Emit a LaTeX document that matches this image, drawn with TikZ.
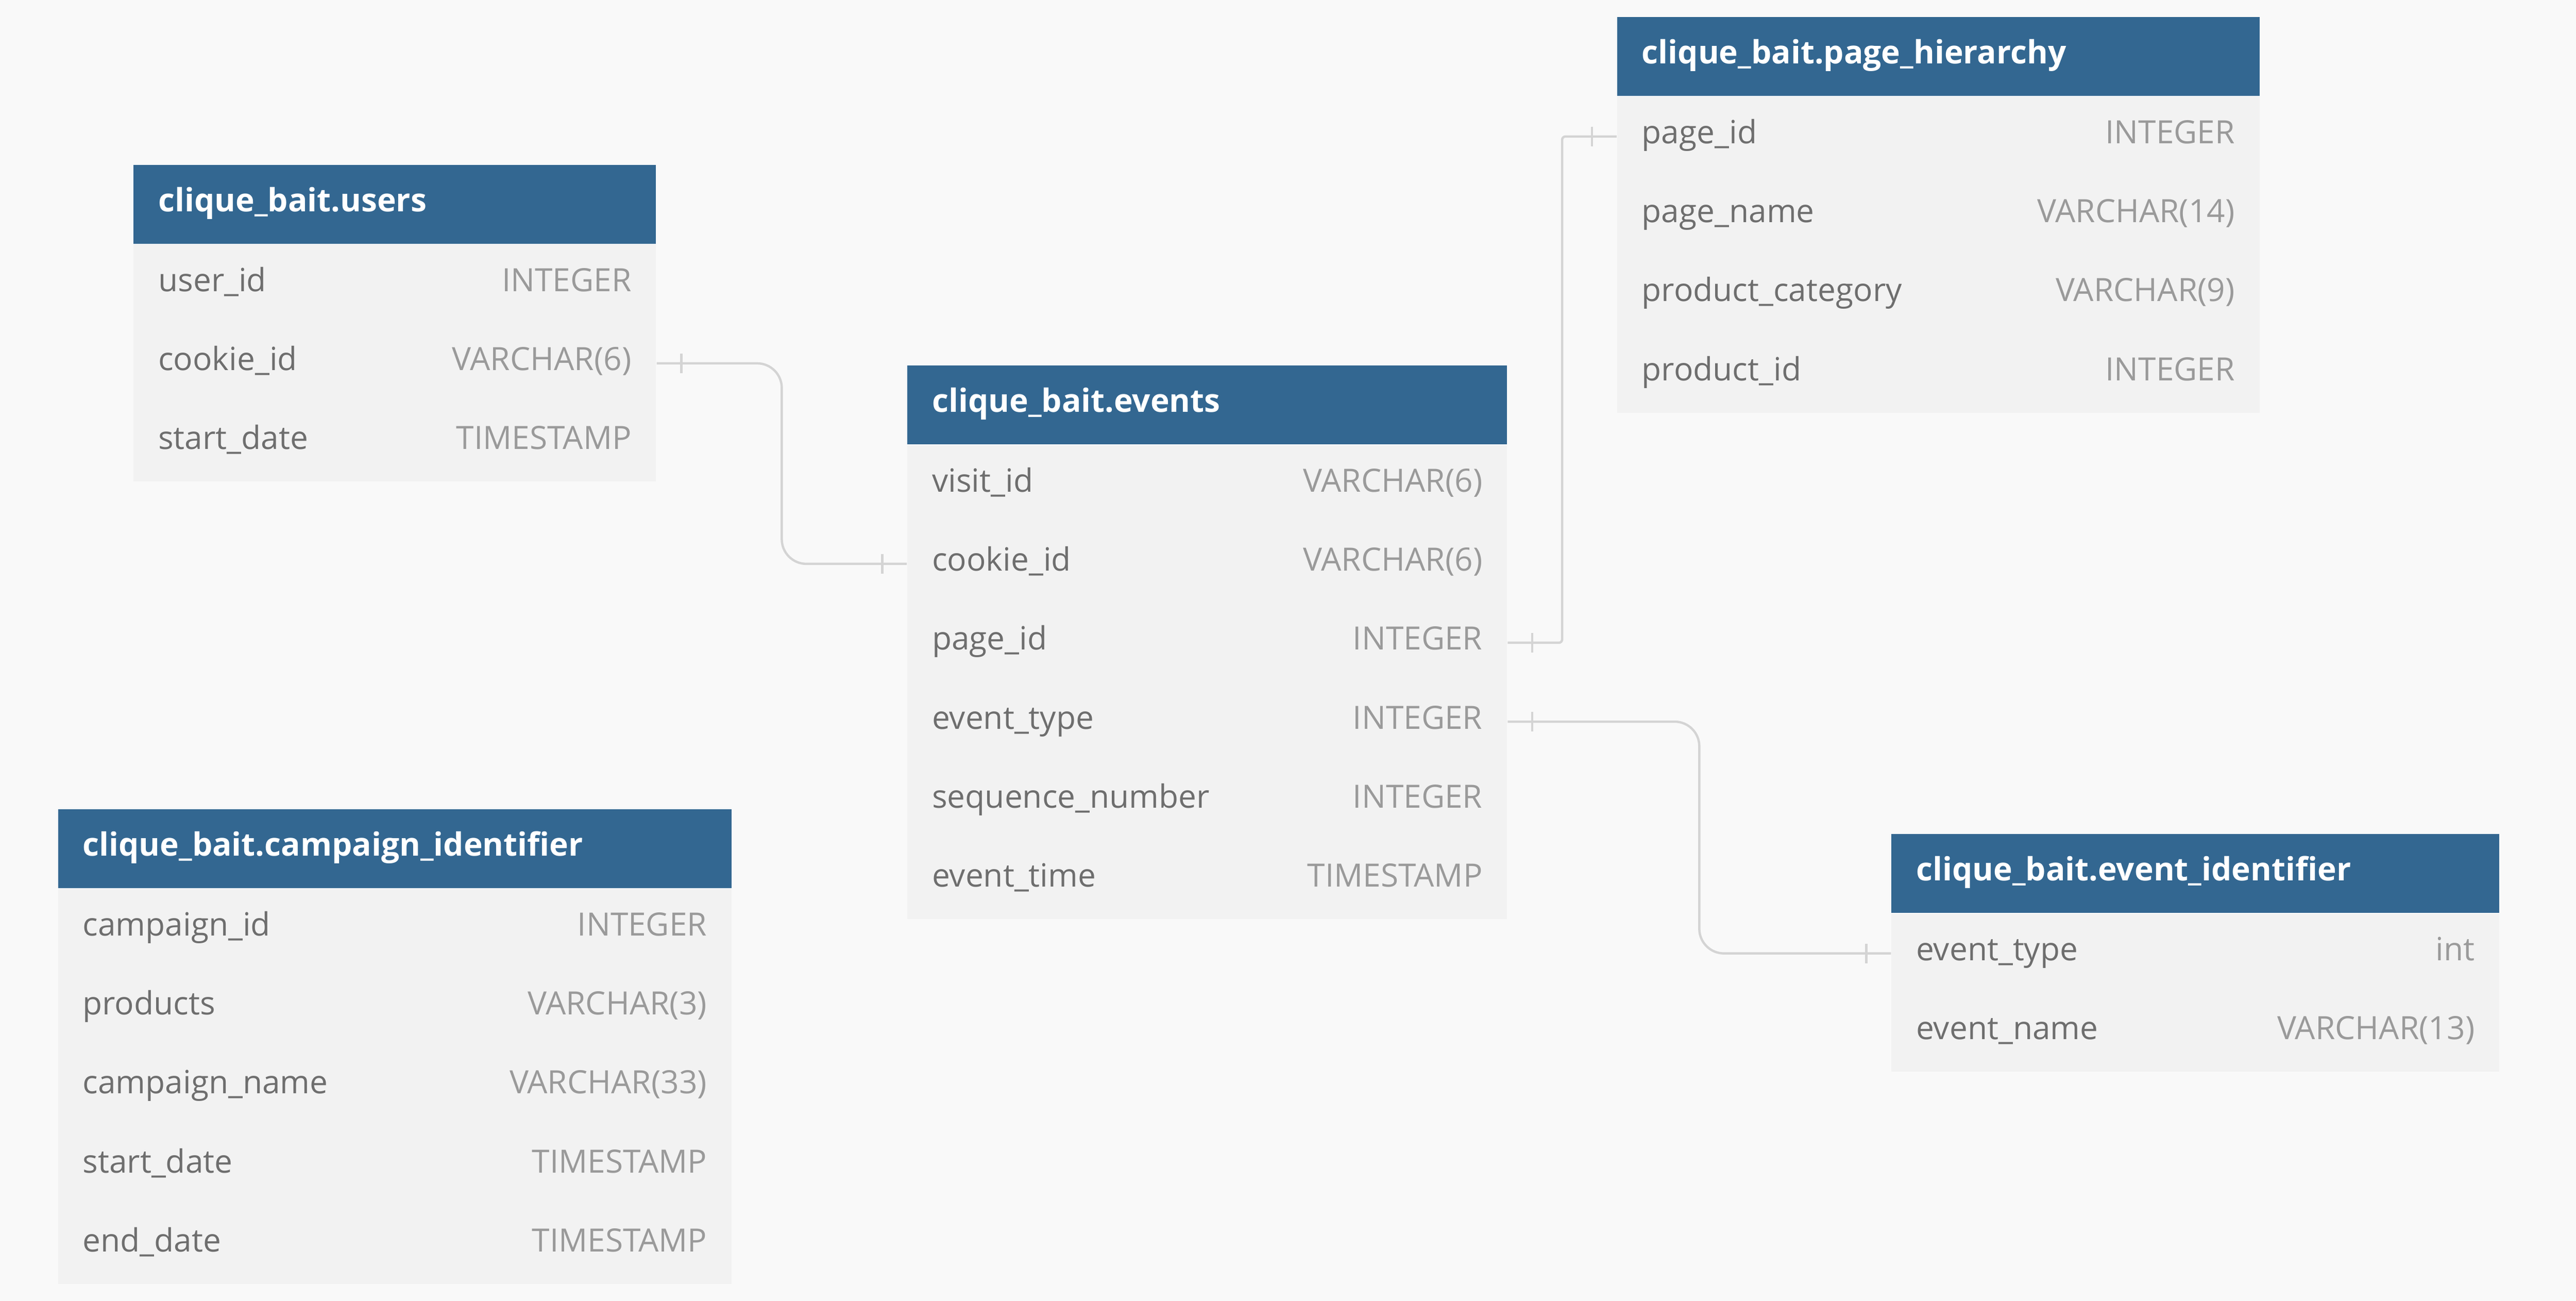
\documentclass[tikz,border=0pt]{standalone}
\usepackage{fontspec}
\setmainfont{Open Sans}
\usepackage{xcolor}
\usepackage{tikz}
\usetikzlibrary{calc}
\usetikzlibrary{positioning}

\definecolor{bgcolor}{HTML}{F9F9F9}
\definecolor{headblue}{RGB}{51,103,145}
\definecolor{rowgray}{HTML}{F2F2F2}
\definecolor{fieldgray}{HTML}{6E6E6E}
\definecolor{typegray}{HTML}{9A9A9A}
\definecolor{linegray}{HTML}{D4D4D4}

\newcommand{\erdfont}{\fontsize{11.1}{13}\selectfont}

\tikzset{
  tabhead/.style={fill=headblue, anchor=north west, minimum width=#1, minimum height=0.96cm, inner sep=0pt},
  tabrow/.style={fill=rowgray, anchor=north west, minimum width=#1, minimum height=0.96cm, inner sep=0pt},
  headname/.style={anchor=west, inner xsep=0.3cm, text=white, font=\erdfont\bfseries, text height=0.75em, text depth=0.25em},
  fieldname/.style={anchor=west, inner xsep=0.3cm, text=fieldgray, font=\erdfont, text height=0.75em, text depth=0.25em},
  fieldtype/.style={anchor=east, inner xsep=0.3cm, text=typegray, font=\erdfont, text height=0.75em, text depth=0.25em},
  link/.style={draw=linegray, line width=0.8pt},
  tick/.style={draw=linegray, line width=0.8pt}
}

\begin{document}
\begin{tikzpicture}

\fill[bgcolor] (0,0) rectangle (31.36,-15.83);

% users
\node[tabhead=6.36cm, label={[headname]west:clique\_bait.users}] (users) at (1.62,-2.00) {};
\foreach \fname/\ftype [count=\i] in {user\_id/INTEGER, cookie\_id/VARCHAR(6), start\_date/TIMESTAMP}
  \node[tabrow=6.36cm, label={[fieldname]west:\fname}, label={[fieldtype]east:\ftype}] (users-\i) at ([yshift={-(\i-1)*0.96cm}]users.south west) {};

% events
\node[tabhead=7.30cm, label={[headname]west:clique\_bait.events}] (events) at (11.04,-4.44) {};
\foreach \fname/\ftype [count=\i] in {visit\_id/VARCHAR(6), cookie\_id/VARCHAR(6), page\_id/INTEGER, event\_type/INTEGER, sequence\_number/INTEGER, event\_time/TIMESTAMP}
  \node[tabrow=7.30cm, label={[fieldname]west:\fname}, label={[fieldtype]east:\ftype}] (events-\i) at ([yshift={-(\i-1)*0.96cm}]events.south west) {};

% page hierarchy
\node[tabhead=7.82cm, label={[headname]west:clique\_bait.page\_hierarchy}] (page) at (19.68,-0.20) {};
\foreach \fname/\ftype [count=\i] in {page\_id/INTEGER, page\_name/VARCHAR(14), product\_category/VARCHAR(9), product\_id/INTEGER}
  \node[tabrow=7.82cm, label={[fieldname]west:\fname}, label={[fieldtype]east:\ftype}] (page-\i) at ([yshift={-(\i-1)*0.96cm}]page.south west) {};

% campaign identifier
\node[tabhead=8.20cm, label={[headname]west:clique\_bait.campaign\_identifier}] (campaign) at (0.70,-9.84) {};
\foreach \fname/\ftype [count=\i] in {campaign\_id/INTEGER, products/VARCHAR(3), campaign\_name/VARCHAR(33), start\_date/TIMESTAMP, end\_date/TIMESTAMP}
  \node[tabrow=8.20cm, label={[fieldname]west:\fname}, label={[fieldtype]east:\ftype}] (campaign-\i) at ([yshift={-(\i-1)*0.96cm}]campaign.south west) {};

% event identifier
\node[tabhead=7.40cm, label={[headname]west:clique\_bait.event\_identifier}] (evid) at (23.02,-10.14) {};
\foreach \fname/\ftype [count=\i] in {event\_type/int, event\_name/VARCHAR(13)}
  \node[tabrow=7.40cm, label={[fieldname]west:\fname}, label={[fieldtype]east:\ftype}] (evid-\i) at ([yshift={-(\i-1)*0.96cm}]evid.south west) {};

% relations
\draw[link, rounded corners=0.3cm] (users-2.east) -| ($(users-2.east)!0.5!(events-2.west)$) |- (events-2.west);
\draw[link, rounded corners=0.04cm] (events-3.east) -| ($(events-3.east)!0.5!(page-1.west)$) |- (page-1.west);
\draw[link, rounded corners=0.3cm] (events-4.east) -| ($(events-4.east)!0.5!(evid-1.west)$) |- (evid-1.west);

\foreach \a/\s in {users-2.east/1, events-2.west/-1, events-3.east/1, page-1.west/-1, events-4.east/1, evid-1.west/-1}
  \draw[tick] ([xshift=\s*0.3cm]\a) ++(0,0.12) -- ++(0,-0.24);

\end{tikzpicture}
\end{document}
